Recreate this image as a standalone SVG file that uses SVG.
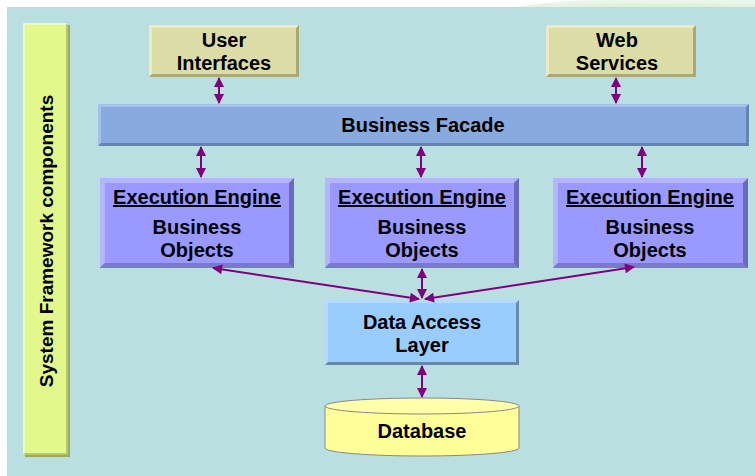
<svg xmlns="http://www.w3.org/2000/svg" width="755" height="476" viewBox="0 0 755 476">
<defs>
<style>
text{font-family:"Liberation Sans",Arial,sans-serif;font-weight:bold;fill:#000;text-anchor:middle}
.t{font-size:20px}
.c{stroke:#800080;stroke-width:2;fill:none;marker-start:url(#a);marker-end:url(#a)}
</style>
<marker id="a" viewBox="0 0 10 10" refX="9" refY="5" markerWidth="5.5" markerHeight="5" orient="auto-start-reverse" markerUnits="strokeWidth"><path d="M0,0 L10,5 L0,10 z" fill="#800080"/></marker>
<radialGradient id="g" cx="0.6" cy="1" r="0.7"><stop offset="0" stop-color="#D4EED4"/><stop offset="1" stop-color="#EAF6EA"/></radialGradient>
</defs>
<rect width="755" height="476" fill="#fff"/>
<path d="M515,7 Q560,0 600,0 L755,0 L755,7 z" fill="url(#g)"/>
<rect x="7" y="7" width="748" height="469" fill="#BADFE1"/>
<g id="sidebar">
<rect x="25" y="25" width="45" height="432" fill="#9EA860"/>
<rect x="23" y="23" width="45" height="432" fill="#E2F78C"/>
<path d="M23,23 h45 l-2,2 h-41 v428 l-2,2z" fill="#EEFBB0"/>
<path d="M68,23 v432 h-45 l2,-2 h41 v-428z" fill="#B8C670"/>
<text transform="translate(53,241) rotate(-90)" style="font-size:19px">System Framework components</text>
</g>
<g id="user-interfaces">
<rect x="149" y="25" width="150" height="52" fill="#DCDCA6"/>
<path d="M149,25 h150 l-3,3 h-144 v46 l-3,3z" fill="#EAEAC4"/>
<path d="M299,25 v52 h-150 l3,-3 h144 v-46z" fill="#A8A878"/>
<text class="t" x="224" y="47">User</text>
<text class="t" x="224" y="70">Interfaces</text>
</g>
<g id="web-services">
<rect x="546" y="25" width="150" height="52" fill="#DCDCA6"/>
<path d="M546,25 h150 l-3,3 h-144 v46 l-3,3z" fill="#EAEAC4"/>
<path d="M696,25 v52 h-150 l3,-3 h144 v-46z" fill="#A8A878"/>
<text class="t" x="617" y="47">Web</text>
<text class="t" x="617" y="70">Services</text>
</g>
<g id="business-facade">
<rect x="98" y="104" width="651" height="42" fill="#88AADE"/>
<path d="M98,104 h651 l-3,3 h-645 v36 l-3,3z" fill="#A4C0EC"/>
<path d="M749,104 v42 h-651 l3,-3 h645 v-36z" fill="#6684B0"/>
<text class="t" x="423" y="132">Business Facade</text>
</g>
<g id="engine-1">
<rect x="100" y="178" width="194" height="90" fill="#9999FF"/>
<path d="M100,178 h194 l-5,5 h-184 v80 l-5,5z" fill="#B4B4FF"/>
<path d="M294,178 v90 h-194 l5,-5 h184 v-80z" fill="#6A6AB8"/>
<path d="M100,268 h194 l-5,-5 h-184z" fill="#7A7ACC"/>
<text class="t" x="197" y="204" text-decoration="underline">Execution Engine</text>
<text class="t" x="197" y="234">Business</text>
<text class="t" x="197" y="257">Objects</text>
</g>
<g id="engine-2">
<rect x="325" y="178" width="194" height="90" fill="#9999FF"/>
<path d="M325,178 h194 l-5,5 h-184 v80 l-5,5z" fill="#B4B4FF"/>
<path d="M519,178 v90 h-194 l5,-5 h184 v-80z" fill="#6A6AB8"/>
<path d="M325,268 h194 l-5,-5 h-184z" fill="#7A7ACC"/>
<text class="t" x="422" y="204" text-decoration="underline">Execution Engine</text>
<text class="t" x="422" y="234">Business</text>
<text class="t" x="422" y="257">Objects</text>
</g>
<g id="engine-3">
<rect x="553" y="178" width="195" height="90" fill="#9999FF"/>
<path d="M553,178 h195 l-5,5 h-185 v80 l-5,5z" fill="#B4B4FF"/>
<path d="M748,178 v90 h-195 l5,-5 h185 v-80z" fill="#6A6AB8"/>
<path d="M553,268 h195 l-5,-5 h-185z" fill="#7A7ACC"/>
<text class="t" x="650" y="204" text-decoration="underline">Execution Engine</text>
<text class="t" x="650" y="234">Business</text>
<text class="t" x="650" y="257">Objects</text>
</g>
<g id="data-access-layer">
<rect x="325" y="300" width="194" height="65" fill="#99CCFF"/>
<path d="M325,300 h194 l-3,3 h-188 v59 l-3,3z" fill="#B4DAFF"/>
<path d="M519,300 v65 h-194 l3,-3 h188 v-59z" fill="#6688AA"/>
<text class="t" x="422" y="329">Data Access</text>
<text class="t" x="422" y="352">Layer</text>
</g>
<g id="database">
<path d="M325,406 v42 a97,8 0 0 0 194,0 v-42" fill="#FFFF99" stroke="#888" stroke-width="1"/>
<ellipse cx="422" cy="406" rx="97" ry="8" fill="#FFFFAA" stroke="#888" stroke-width="1"/>
<text class="t" x="422" y="438">Database</text>
</g>
<g id="connectors">
<line class="c" x1="219" y1="78" x2="219" y2="103"/>
<line class="c" x1="616" y1="78" x2="616" y2="103"/>
<line class="c" x1="201" y1="147" x2="201" y2="177"/>
<line class="c" x1="421" y1="147" x2="421" y2="177"/>
<line class="c" x1="642" y1="147" x2="642" y2="177"/>
<line class="c" x1="213" y1="268" x2="419" y2="299"/>
<line class="c" x1="422" y1="269" x2="422" y2="298"/>
<line class="c" x1="634" y1="267" x2="425" y2="299"/>
<line class="c" x1="422" y1="366" x2="422" y2="397"/>
</g>
</svg>
